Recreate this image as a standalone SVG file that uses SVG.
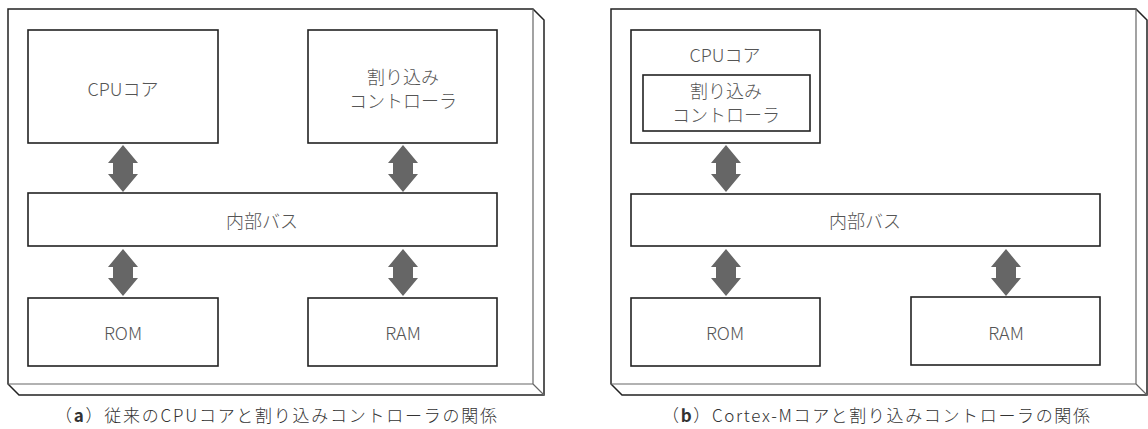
<svg xmlns="http://www.w3.org/2000/svg" width="1148" height="429" viewBox="0 0 1148 429">
<style>
.slab{fill:#fff;stroke:#222;stroke-width:1.5;stroke-linejoin:miter}
.edge{fill:none;stroke:#666;stroke-width:1.2}
.box{fill:#fff;stroke:#222;stroke-width:1.6}
.t{font-family:"Noto Sans CJK JP","Noto Sans",sans-serif;font-size:18px;font-weight:300;fill:#555;text-anchor:middle;dominant-baseline:central}
.cap{font-family:"Noto Sans CJK JP","Noto Sans",sans-serif;font-size:17px;font-weight:300;fill:#333;text-anchor:middle}
.arrow{fill:#666}
</style>
<defs>
<path id="dbl" d="M0,0 L15,18 L10,18 L10,29 L15,29 L0,47 L-15,29 L-10,29 L-10,18 L-15,18 Z"/>
</defs>
<g id="panel-a">
<path class="slab" d="M8,9 L533,9 L544,20 L544,395 L19,395 L8,384 Z"/>
<path class="edge" d="M533,9 L533,384 L8,384 M533,384 L544,395"/>
</g>
<g id="panel-b">
<path class="slab" d="M611,9 L1136,9 L1147,20 L1147,395 L622,395 L611,384 Z"/>
<path class="edge" d="M1136,9 L1136,384 L611,384 M1136,384 L1147,395"/>
</g>
<g id="a-cpu"><rect class="box" x="28" y="30" width="190" height="113"/><text class="t" x="123" y="88">CPUコア</text></g>
<g id="a-intc"><rect class="box" x="308" y="30" width="189" height="113"/><text class="t" x="403" y="76">割り込み</text><text class="t" x="403" y="100">コントローラ</text></g>
<g id="a-bus"><rect class="box" x="28" y="193" width="469" height="53"/><text class="t" x="262" y="220">内部バス</text></g>
<g id="a-rom"><rect class="box" x="28" y="298" width="190" height="68"/><text class="t" x="123" y="332">ROM</text></g>
<g id="a-ram"><rect class="box" x="308" y="298" width="189" height="68"/><text class="t" x="403" y="332">RAM</text></g>
<g id="b-cpu"><rect class="box" x="631" y="30" width="189" height="113"/><text class="t" x="725" y="54">CPUコア</text></g>
<g id="b-intc"><rect class="box" x="643" y="75" width="167" height="56"/><text class="t" x="726" y="90">割り込み</text><text class="t" x="726" y="114">コントローラ</text></g>
<g id="b-bus"><rect class="box" x="631" y="194" width="469" height="52"/><text class="t" x="865" y="220">内部バス</text></g>
<g id="b-rom"><rect class="box" x="631" y="298" width="189" height="68"/><text class="t" x="725" y="332">ROM</text></g>
<g id="b-ram"><rect class="box" x="911" y="297" width="189" height="68"/><text class="t" x="1006" y="332">RAM</text></g>
<g id="connectors" class="arrow">
<use href="#dbl" x="123" y="145"/>
<use href="#dbl" x="403" y="145"/>
<use href="#dbl" x="123" y="249"/>
<use href="#dbl" x="403" y="249"/>
<use href="#dbl" x="726" y="145"/>
<use href="#dbl" x="726" y="249"/>
<use href="#dbl" x="1006" y="249"/>
</g>
<g id="captions">
<text class="cap" x="276" y="422" textLength="442" lengthAdjust="spacing">（<tspan font-weight="bold">a</tspan>）従来のCPUコアと割り込みコントローラの関係</text>
<text class="cap" x="876" y="422" textLength="428" lengthAdjust="spacing">（<tspan font-weight="bold">b</tspan>）Cortex-Mコアと割り込みコントローラの関係</text>
</g>
</svg>
